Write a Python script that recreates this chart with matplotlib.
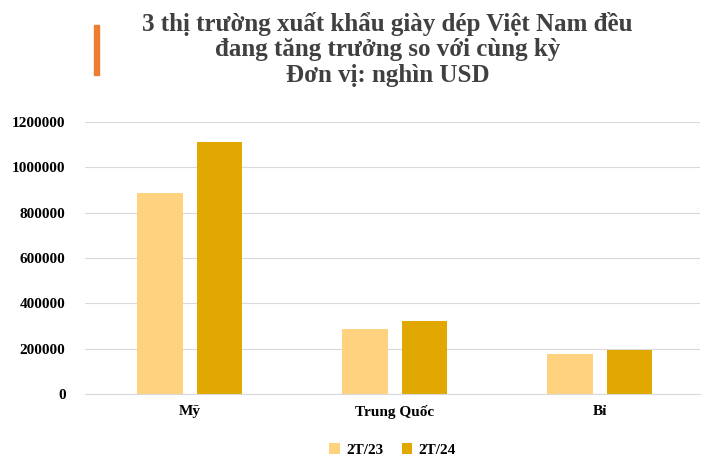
import matplotlib.pyplot as plt
import matplotlib.ticker as mticker
import numpy as np

categories = ["Mỹ", "Trung Quốc", "Bỉ"]
series_names = ["2T/23", "2T/24"]
v_2t23 = [887000, 287000, 176000]
v_2t24 = [1112000, 322000, 194000]
colors = ["#FFD280", "#E0A800"]

plt.rcParams['font.family'] = ['Liberation Serif', 'DejaVu Serif']

fig = plt.figure(figsize=(7.18, 4.67), dpi=100)
ax = fig.add_axes([85/718, 1 - 394/467, 615/718, 272/467])

x = np.arange(len(categories))
w = 0.224
off = 0.146
ax.bar(x - off, v_2t23, w, color=colors[0], label=series_names[0])
ax.bar(x + off, v_2t24, w, color=colors[1], label=series_names[1])

ax.set_xlim(-0.51, 2.49)
ax.set_ylim(0, 1200000)
ax.set_yticks(range(0, 1200001, 200000))
ax.yaxis.set_major_formatter(mticker.FuncFormatter(lambda v, p: f"{int(v)}"))
ax.tick_params(axis='y', length=0, labelsize=11, pad=14)
ax.tick_params(axis='x', length=0, labelsize=11, pad=8)
ax.set_xticks(x)
ax.set_xticklabels(categories, fontweight='bold')
for lbl in ax.get_yticklabels():
    lbl.set_fontweight('bold')
ax.grid(axis='y', color='#d9d9d9', linewidth=0.8)
ax.set_axisbelow(True)
for s in ['top', 'right', 'left']:
    ax.spines[s].set_visible(False)
ax.spines['bottom'].set_color('#d9d9d9')

fig.text(0.54, 0.975, "3 thị trường xuất khẩu giày dép Việt Nam đều\nđang tăng trưởng so với cùng kỳ\nĐơn vị: nghìn USD",
         ha='center', va='top', fontsize=18, fontweight='bold', color='#404040', linespacing=1.15)
fig.patches.append(plt.Rectangle((94/718, 1 - 75/467), 5/718, 50/467,
                                 transform=fig.transFigure, color='#ED7D31'))

leg = ax.legend(loc='upper center', bbox_to_anchor=(0.5, -0.13), ncol=2, frameon=False,
                prop={'size': 11, 'weight': 'bold'}, handlelength=0.7, handleheight=0.7,
                columnspacing=1.2, handletextpad=0.4)

fig.savefig("out.png", dpi=100)
